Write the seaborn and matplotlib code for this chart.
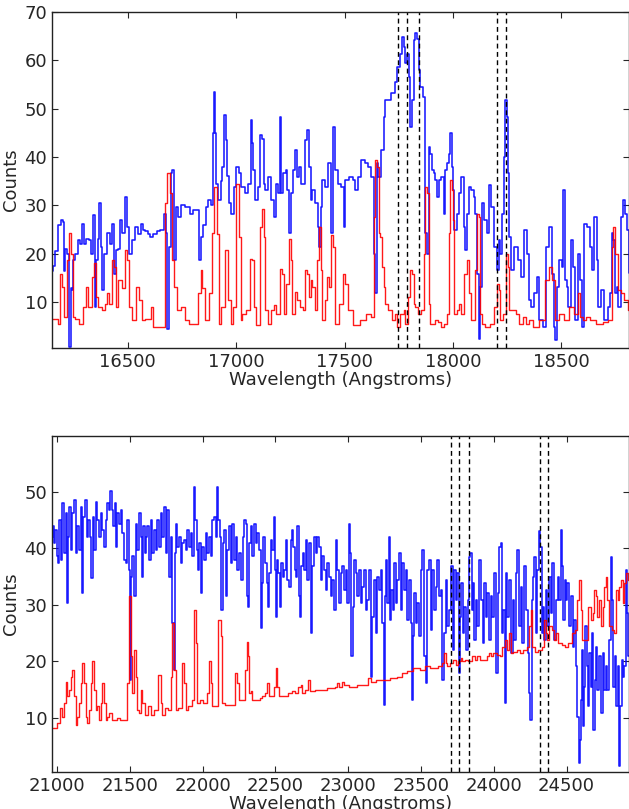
import numpy as np
import pandas as pd
import matplotlib
matplotlib.use("Agg")
import matplotlib.pyplot as plt
import seaborn as sns

# ---------------- data: top panel (H band) ----------------
top_blue_wl = [16150, 16160, 16170, 16184, 16195, 16202, 16206, 16215, 16226, 16233, 16238, 16245, 16252, 16264,
               16272, 16285, 16295, 16302, 16313, 16325, 16336, 16345, 16348, 16356, 16365, 16371, 16379, 16387,
               16394, 16410, 16425, 16433, 16441, 16448, 16460, 16471, 16479, 16491, 16502, 16510, 16525, 16540,
               16555, 16563, 16575, 16586, 16598, 16609, 16625, 16640, 16660, 16671, 16679, 16686, 16694, 16702,
               16709, 16717, 16725, 16740, 16755, 16775, 16794, 16810, 16824, 16832, 16840, 16855, 16863, 16878,
               16891, 16894, 16898, 16904, 16909, 16924, 16932, 16940, 16947, 16955, 16962, 16970, 16986, 16993,
               17009, 17016, 17032, 17047, 17063,
               17070, 17075, 17081, 17093, 17108, 17113, 17124, 17131, 17139, 17155, 17170, 17182, 17188, 17198,
               17205, 17211, 17224, 17231, 17239, 17247, 17254, 17270, 17277, 17285, 17293, 17308, 17323, 17331,
               17339, 17347, 17354, 17370, 17382, 17385, 17393, 17400, 17416, 17431, 17443, 17451, 17462, 17477,
               17492, 17500, 17508, 17531, 17546, 17554, 17569, 17585, 17600, 17615, 17631, 17638, 17646, 17651,
               17661, 17677, 17684, 17692, 17707, 17723, 17738, 17750, 17761, 17769, 17777, 17784, 17792, 17800,
               17807, 17815, 17823, 17830, 17838, 17846, 17853, 17869, 17876, 17884, 17892, 17899, 17907, 17915,
               17923, 17930,
               17938, 17953, 17961, 17969, 17976, 17984, 17992, 17996, 18002, 18012, 18022, 18030, 18045, 18053,
               18061, 18068, 18076, 18092, 18099, 18107, 18115, 18122, 18130, 18138, 18153, 18161, 18171, 18184,
               18199, 18207, 18214, 18222, 18230, 18237, 18245, 18250, 18256, 18264, 18276, 18291, 18307, 18322,
               18337, 18345, 18353, 18368, 18383, 18391, 18406, 18422, 18437, 18452, 18460, 18468, 18476, 18483,
               18499, 18506, 18514, 18522, 18529, 18537, 18552, 18560, 18568, 18583, 18591, 18598, 18614, 18626,
               18637, 18644, 18660, 18667, 18675, 18691, 18706, 18721, 18729, 18737, 18744, 18752, 18760, 18767,
               18783, 18790, 18798, 18806, 18815]
top_blue_counts = [16.5, 17.5, 20.5, 26.0, 27.0, 26.5, 16.5, 21.0, 20.0, 0.7, 13.0, 12.5, 18.6, 20.0,
                   22.8, 22.0, 26.2, 22.0, 23.0, 22.8, 20.0, 28.0, 9.0, 18.6, 23.0, 30.4, 21.4, 12.4,
                   20.0, 24.2, 22.0, 26.2, 15.9, 20.7, 21.0, 27.0, 24.2, 31.8, 25.6, 20.0, 22.8, 25.6,
                   24.0, 26.2, 25.0, 24.8, 24.0, 23.5, 24.0, 24.8, 25.0, 28.3, 24.2, 4.5, 21.4, 36.6,
                   37.3, 18.6, 29.7, 27.6, 30.0, 29.7, 28.3, 29.0, 29.0, 18.6, 23.5, 26.0, 29.7, 31.1,
                   30.0, 44.9, 53.5, 45.0, 34.5, 31.1, 35.0, 38.0, 48.7, 43.5, 36.0, 30.4, 28.3, 33.8,
                   38.0, 36.6, 33.8, 32.5, 34.5,
                   47.6, 42.8, 37.3, 31.1, 33.8, 44.5, 43.8, 34.5, 33.1, 35.9, 31.1, 27.6, 34.5, 32.5,
                   48.3, 32.5, 36.6, 37.3, 33.1, 24.2, 32.5, 37.3, 41.4, 35.9, 38.0, 34.5, 43.5, 45.6,
                   38.0, 31.1, 33.1, 30.4, 25.6, 21.4, 29.7, 35.2, 33.8, 38.7, 24.2, 46.2, 37.3, 34.5,
                   33.8, 25.6, 35.2, 35.9, 35.2, 33.1, 35.9, 39.3, 38.7, 38.0, 35.9, 20.0, 11.8, 38.7,
                   35.9, 41.4, 48.3, 51.8, 51.8, 53.2, 55.6, 58.7, 61.4, 64.9, 62.8, 59.4, 61.4, 56.6,
                   46.2, 51.8, 64.2, 65.6, 64.5, 58.0, 54.5, 52.5, 24.2, 20.0, 42.1, 40.7, 37.3, 36.6,
                   35.2, 31.8,
                   35.2, 35.9, 28.3, 37.3, 38.7, 40.7, 44.9, 38.0, 33.1, 24.9, 28.3, 32.5, 35.9, 25.5,
                   20.7, 28.3, 33.8, 33.1, 31.8, 28.3, 15.9, 2.4, 13.1, 30.4, 27.0, 24.2, 34.2, 29.7,
                   21.4, 16.6, 22.8, 20.0, 28.3, 40.1, 51.8, 48.3, 36.6, 23.5, 16.6, 21.4, 18.6, 15.2,
                   24.9, 20.0, 10.4, 9.0, 11.8, 15.2, 6.2, 4.8, 21.4, 25.5, 15.9, 4.8, 2.1, 13.1,
                   18.6, 17.3, 33.1, 14.5, 13.1, 9.0, 22.8, 17.3, 6.2, 20.0, 14.5, 4.8, 26.2, 25.5,
                   21.4, 16.6, 27.6, 18.6, 9.0, 12.4, 6.2, 9.0, 11.8, 24.2, 22.8, 11.8, 13.1, 9.0,
                   27.6, 31.1, 28.3, 24.9, 16.0]

top_red_wl = [16150, 16172, 16179, 16192, 16202, 16210, 16225, 16233, 16241, 16249, 16264, 16287, 16302, 16310,
              16325, 16341, 16348, 16356, 16371, 16387, 16402, 16410, 16417, 16433, 16441, 16448, 16464, 16479,
              16494, 16502, 16510, 16525, 16548, 16556, 16571, 16586, 16602, 16609, 16625, 16663, 16679, 16686,
              16702, 16709, 16717, 16732, 16755, 16771, 16794, 16817, 16832, 16840, 16848, 16863, 16886, 16894,
              16904, 16917, 16924, 16940, 16955, 16970, 16978, 16993, 17009, 17016, 17024,
              17032, 17055, 17070, 17078, 17085, 17101, 17116, 17124, 17131, 17139, 17155, 17170, 17178, 17193,
              17208, 17216, 17224, 17239, 17247, 17254, 17262, 17277, 17285, 17300, 17316, 17323, 17331, 17339,
              17347, 17354, 17370, 17377, 17385, 17393, 17400, 17416, 17423, 17431, 17443, 17451, 17462, 17485,
              17500, 17508, 17523, 17554, 17585, 17615, 17631, 17638, 17646, 17654, 17661, 17669, 17677, 17684,
              17692, 17707, 17731, 17738, 17746, 17769, 17777, 17784, 17800, 17807, 17815, 17823, 17830, 17846,
              17861, 17869, 17876, 17884, 17892, 17899,
              17907, 17923, 17938, 17953, 17969, 17976, 17984, 17992, 17996, 18002, 18012, 18022, 18030, 18045,
              18061, 18068, 18076, 18092, 18107, 18115, 18122, 18130, 18138, 18161, 18184, 18199, 18207, 18214,
              18222, 18237, 18248, 18256, 18264, 18284, 18299, 18314, 18330, 18345, 18360, 18383, 18414, 18437,
              18452, 18463, 18476, 18506, 18522, 18552, 18568, 18583, 18591, 18606, 18621, 18644, 18675, 18706,
              18729, 18737, 18744, 18752, 18767, 18783, 18798, 18813]
top_red_counts = [6.6, 6.6, 5.5, 15.9, 13.1, 6.9, 18.6, 24.3, 20.0, 6.9, 6.5, 5.5, 9.0, 13.1,
                  9.0, 15.2, 18.0, 11.1, 9.0, 8.3, 9.7, 11.8, 9.5, 18.6, 17.3, 9.0, 14.5, 13.0,
                  20.7, 18.6, 9.0, 6.2, 13.1, 10.4, 6.2, 6.5, 6.5, 9.0, 4.9, 4.9, 30.4, 36.6,
                  32.5, 18.6, 13.1, 8.3, 9.0, 6.2, 5.5, 5.5, 11.8, 16.6, 13.0, 6.2, 11.8, 24.2,
                  33.8, 24.0, 5.5, 9.0, 20.7, 10.4, 5.5, 9.0, 34.5, 23.5, 6.2,
                  7.6, 8.3, 19.0, 18.6, 9.0, 5.2, 25.5, 29.3, 23.5, 8.3, 5.5, 8.3, 9.3, 7.6,
                  16.9, 15.9, 7.6, 13.8, 23.1, 18.6, 7.6, 12.1, 10.4, 9.0, 8.3, 16.6, 15.9, 11.0,
                  14.5, 13.1, 8.3, 18.6, 25.5, 16.6, 6.2, 10.4, 15.2, 13.1, 23.8, 21.4, 5.5, 9.7,
                  15.9, 13.8, 8.3, 5.2, 6.2, 7.6, 6.9, 27.6, 39.3, 38.0, 24.2, 23.5, 17.3, 13.1,
                  9.7, 8.3, 6.2, 7.6, 4.8, 7.6, 8.3, 5.5, 11.0, 16.6, 15.9, 9.7, 9.0, 7.6,
                  8.3, 20.0, 33.8, 32.5, 9.7, 5.5,
                  5.5, 6.2, 5.9, 4.8, 5.5, 7.6, 24.2, 35.2, 33.1, 27.0, 7.6, 8.3, 9.7, 7.6,
                  15.9, 18.6, 11.8, 6.2, 16.6, 28.3, 27.6, 7.6, 5.5, 4.8, 5.5, 9.0, 13.8, 12.4,
                  6.2, 7.6, 20.0, 17.3, 8.3, 8.3, 7.6, 5.5, 6.9, 5.5, 6.2, 4.8, 6.2, 14.5,
                  17.3, 14.5, 6.2, 7.6, 6.2, 9.0, 7.6, 11.8, 7.0, 6.2, 6.9, 6.2, 5.5, 5.8,
                  6.2, 21.4, 25.5, 20.0, 12.4, 11.8, 10.4, 8.3]

top_lines = [17747, 17788, 17843, 18203, 18244]

# ---------------- data: bottom panel (K band) ----------------
bot_blue_wl = [20966, 20975, 20986, 20993, 21002, 21011, 21021, 21032, 21043, 21055, 21066, 21071, 21078, 21089,
               21101, 21112, 21124, 21135, 21146, 21158, 21169, 21176, 21185, 21199, 21208, 21222, 21231, 21240,
               21250, 21261, 21272, 21284, 21295, 21307, 21318, 21330, 21341, 21352, 21364, 21371, 21382, 21391,
               21401, 21410, 21421, 21433, 21444, 21455, 21467, 21478, 21490, 21497, 21501, 21506, 21513, 21524,
               21536, 21547, 21559, 21570, 21581, 21588, 21597, 21607, 21616, 21627, 21639, 21650, 21662, 21673,
               21684, 21696, 21707, 21719, 21730, 21742, 21753, 21765, 21776, 21787, 21799, 21806, 21815, 21822,
               21833, 21845, 21856, 21868, 21879, 21890, 21902, 21913, 21925, 21936, 21948, 21954, 21964, 21973,
               21982, 21993, 22005, 22016, 22028, 22039, 22051, 22062, 22074, 22085, 22096, 22103, 22112, 22124,
               22133, 22142, 22154, 22165, 22176, 22188, 22199, 22211, 22222, 22234, 22245,
               22257, 22275, 22284, 22291, 22303, 22307, 22314, 22325, 22337, 22348, 22360, 22371, 22383, 22394,
               22406, 22412, 22422, 22435, 22445, 22454, 22463, 22474, 22486, 22493, 22499, 22504, 22513, 22527,
               22536, 22545, 22554, 22566, 22577, 22589, 22600, 22612, 22618, 22628, 22637, 22646, 22657, 22664,
               22673, 22683, 22692, 22703, 22715, 22726, 22737, 22749, 22760, 22772, 22783, 22795, 22806, 22818,
               22829, 22840, 22852, 22863, 22875, 22886, 22898, 22909, 22921, 22932, 22944, 22955, 22966, 22978,
               22989, 23001, 23008, 23017, 23026, 23035, 23046, 23058, 23069, 23081, 23092, 23104, 23115, 23127,
               23138, 23149, 23161, 23172, 23184, 23195, 23207, 23218, 23230, 23241, 23248, 23255, 23264, 23275,
               23282, 23291, 23301, 23310, 23321, 23333, 23344, 23356, 23367, 23378, 23390, 23401, 23413, 23424,
               23436, 23440, 23447, 23458, 23470, 23481, 23493, 23504, 23516, 23527, 23539, 23550, 23562, 23573,
               23585, 23596, 23607, 23619, 23630,
               23642, 23653, 23665, 23676, 23688, 23699, 23711, 23722, 23734, 23745, 23756, 23763, 23772, 23782,
               23791, 23802, 23814, 23825, 23836, 23843, 23852, 23859, 23871, 23882, 23894, 23905, 23917, 23928,
               23939, 23951, 23962, 23974, 23985, 23997, 24008, 24020, 24031, 24043, 24049, 24059, 24070, 24079,
               24088, 24100, 24111, 24123, 24134, 24145, 24157, 24168, 24180, 24191, 24203, 24214, 24226, 24237,
               24249, 24255, 24265, 24271, 24283, 24294, 24306, 24317, 24324, 24333, 24340, 24351, 24363, 24374,
               24386, 24397, 24409, 24420, 24432, 24443, 24454, 24466, 24473, 24482, 24491, 24500, 24512, 24523,
               24535, 24546, 24557, 24569, 24580, 24587, 24592, 24599, 24606, 24615, 24626, 24633, 24642, 24651,
               24661, 24672, 24679, 24688, 24697, 24706, 24718, 24729, 24741, 24752, 24764, 24775, 24786, 24798,
               24809, 24816, 24825, 24834, 24844, 24855, 24867, 24873, 24883, 24890, 24901, 24908, 24917, 24928]
bot_blue_counts = [42.1, 43.9, 40.9, 43.3, 38.6, 37.4, 45.0, 38.0, 48.0, 39.1, 46.2, 30.3, 42.1, 47.4,
                   39.7, 46.2, 48.6, 39.1, 43.9, 39.7, 47.4, 32.1, 45.6, 48.6, 42.1, 45.0, 42.1, 34.7,
                   45.6, 39.7, 48.3, 45.0, 42.1, 46.2, 43.3, 40.3, 45.0, 48.0, 46.8, 50.1, 46.8, 43.9,
                   48.0, 40.3, 46.2, 44.4, 46.8, 42.7, 38.0, 37.4, 45.0, 36.2, 34.4, 16.7, 35.0, 38.6,
                   31.5, 44.4, 39.7, 46.2, 42.1, 35.0, 43.9, 39.1, 42.1, 43.9, 38.0, 45.0, 39.1, 43.3,
                   39.7, 45.0, 40.3, 46.2, 42.1, 47.4, 39.1, 46.8, 35.0, 42.1, 26.8, 18.5, 39.1, 44.4,
                   40.3, 42.1, 37.4, 40.9, 41.5, 39.7, 43.3, 40.3, 42.7, 38.6, 50.9, 45.0, 39.7, 36.2,
                   40.9, 32.1, 40.3, 38.0, 42.7, 39.1, 42.1, 38.6, 45.0, 45.6, 42.1, 50.9, 45.0, 42.1,
                   29.1, 40.9, 43.3, 31.5, 39.7, 43.9, 37.4, 44.4, 38.0, 42.1, 36.2,
                   39.1, 34.4, 42.1, 45.0, 44.4, 31.5, 29.7, 40.9, 43.9, 38.6, 44.4, 40.9, 42.7, 39.7,
                   25.9, 33.8, 42.1, 37.4, 33.8, 29.7, 35.6, 41.5, 39.7, 45.6, 36.2, 27.9, 38.0, 35.6,
                   29.7, 37.4, 35.0, 36.2, 41.5, 34.4, 33.2, 41.5, 43.3, 40.3, 36.2, 35.0, 43.9, 31.5,
                   27.9, 36.8, 39.1, 36.2, 41.5, 34.4, 40.9, 25.0, 36.8, 42.1, 39.1, 42.1, 40.3, 34.4,
                   38.6, 36.2, 32.6, 37.4, 35.0, 31.5, 34.4, 29.1, 41.5, 36.2, 30.3, 35.6, 36.8, 32.6,
                   36.2, 30.3, 44.4, 39.1, 20.9, 29.7, 38.0, 35.6, 31.5, 36.2, 30.3, 33.2, 36.2, 29.1,
                   30.9, 36.2, 17.3, 27.9, 34.4, 25.0, 35.0, 32.6, 36.2, 26.8, 12.3, 31.5, 38.0, 30.3,
                   42.1, 27.3, 32.6, 29.1, 37.4, 30.3, 34.4, 39.1, 29.1, 37.4, 32.6, 36.2, 27.3, 34.4,
                   26.8, 13.2, 24.4, 32.1, 26.8, 30.3, 24.4, 36.2, 39.7, 20.9, 16.1, 36.2, 38.0, 25.6,
                   36.2, 29.1, 33.2, 38.0, 31.5,
                   32.7, 16.7, 25.0, 34.4, 26.2, 29.1, 36.8, 22.0, 36.2, 30.9, 35.6, 17.9, 27.9, 33.8,
                   25.0, 29.7, 22.0, 30.9, 38.5, 39.1, 29.1, 33.8, 23.8, 30.9, 26.2, 38.0, 30.9, 23.2,
                   33.8, 27.9, 32.1, 23.8, 31.5, 27.9, 35.6, 17.9, 32.1, 40.3, 40.9, 25.0, 29.1, 12.6,
                   35.6, 27.9, 34.4, 21.4, 30.9, 23.8, 35.6, 39.7, 26.2, 33.2, 23.2, 36.8, 29.1, 21.4,
                   14.4, 9.6, 30.9, 35.0, 38.5, 25.0, 36.2, 43.0, 40.3, 25.0, 29.7, 23.8, 32.7, 26.2,
                   35.0, 28.5, 37.4, 23.8, 30.9, 35.0, 30.9, 43.3, 36.8, 27.3, 34.4, 30.9, 33.8, 26.2,
                   31.5, 22.6, 27.3, 19.1, 10.2, 2.0, 6.1, 13.2, 22.0, 8.5, 15.5, 26.2, 19.1, 12.0,
                   21.4, 15.5, 25.0, 7.9, 16.7, 22.6, 14.9, 20.9, 10.8, 21.4, 14.9, 19.1, 14.9, 23.8,
                   38.5, 30.9, 15.5, 20.9, 12.0, 19.1, 1.4, 12.0, 20.3, 17.3, 19.1, 36.2, 28.5, 20.9]

bot_red_wl = [20966, 20998, 21009, 21032, 21043, 21055, 21066, 21078, 21089, 21101, 21112, 21124, 21135, 21146,
              21158, 21169, 21181, 21192, 21204, 21215, 21227, 21238, 21250, 21261, 21272, 21284, 21295, 21307,
              21318, 21330, 21341, 21352, 21364, 21387, 21410, 21421, 21444, 21478, 21490, 21501, 21513, 21524,
              21536, 21547, 21559, 21570, 21581, 21593, 21616, 21639, 21650, 21684, 21707, 21719, 21730, 21753,
              21776, 21787, 21799, 21810, 21822, 21845, 21868, 21879, 21890, 21913, 21936, 21948, 21959, 21971,
              21993, 22016, 22039, 22051, 22062, 22074, 22096, 22119, 22131, 22142, 22165, 22211, 22234, 22245,
              22257,
              22291, 22298, 22307, 22316, 22325, 22337, 22348, 22383, 22406, 22417, 22440, 22451, 22463, 22486,
              22497, 22509, 22520, 22531, 22577, 22600, 22623, 22646, 22669, 22680, 22692, 22715, 22731, 22742,
              22806, 22898, 22921, 22932, 22944, 22966, 22978, 23035, 23081, 23127, 23149, 23161, 23218, 23264,
              23310, 23356, 23378, 23424, 23470, 23516, 23539, 23585,
              23608, 23630, 23653, 23665, 23676, 23688, 23711, 23734, 23745, 23768, 23779, 23791, 23814, 23836,
              23859, 23882, 23894, 23917, 23939, 23962, 23974, 23985, 24008, 24031, 24054, 24065, 24088, 24100,
              24111, 24123, 24145, 24168, 24191, 24214, 24237, 24249, 24260, 24271, 24294, 24317, 24340, 24351,
              24363, 24374, 24386, 24409, 24420, 24432, 24454, 24477, 24500, 24523, 24546, 24569, 24580, 24592,
              24603, 24615, 24638, 24661, 24672, 24684, 24695, 24706, 24718, 24729, 24741, 24752, 24764, 24775,
              24786, 24798, 24821, 24832, 24844, 24855, 24867, 24878, 24890, 24901, 24912, 24928]
bot_red_counts = [8.2, 8.2, 9.0, 11.7, 10.2, 12.6, 16.4, 13.8, 15.0, 17.3, 18.5, 13.8, 8.8, 10.2,
                  12.6, 16.1, 19.7, 16.1, 10.2, 9.0, 11.4, 16.1, 20.0, 15.0, 11.4, 12.0, 9.6, 12.6,
                  16.1, 12.6, 9.6, 10.2, 10.8, 9.6, 9.6, 9.9, 9.6, 9.6, 16.1, 31.5, 20.9, 14.4,
                  22.0, 17.3, 11.4, 10.8, 15.0, 12.6, 10.5, 12.0, 10.5, 11.4, 17.6, 12.6, 10.5, 11.7,
                  11.4, 17.3, 26.8, 18.5, 11.4, 11.7, 19.7, 16.1, 11.4, 12.0, 13.2, 29.1, 23.2, 12.6,
                  13.2, 12.6, 14.4, 20.0, 16.1, 12.0, 12.0, 27.4, 24.4, 12.6, 12.3, 12.3, 17.9, 16.1,
                  13.2,
                  13.2, 18.5, 23.5, 20.9, 14.4, 14.7, 13.2, 13.2, 13.5, 13.8, 14.4, 16.1, 13.8, 13.8,
                  15.5, 18.8, 15.5, 13.8, 13.8, 14.4, 14.7, 14.4, 15.5, 15.8, 14.4, 15.0, 16.7, 14.7,
                  15.0, 15.2, 15.5, 16.1, 15.5, 16.4, 15.8, 15.5, 15.8, 15.8, 17.0, 16.4, 16.7, 16.7,
                  17.0, 17.3, 17.9, 18.2, 18.8, 18.5, 19.1, 18.8,
                  18.8, 19.1, 19.7, 21.4, 19.7, 19.1, 19.7, 20.3, 19.4, 20.0, 20.6, 20.0, 20.3, 20.0,
                  20.9, 20.3, 20.9, 20.3, 20.3, 20.9, 21.4, 20.9, 21.4, 21.1, 20.9, 22.6, 23.8, 22.0,
                  25.0, 21.4, 21.7, 22.0, 21.4, 22.0, 22.6, 26.2, 29.1, 22.6, 21.7, 22.0, 22.6, 27.3,
                  25.0, 23.8, 26.2, 25.6, 23.8, 25.0, 23.2, 22.9, 22.6, 23.2, 25.0, 25.6, 30.9, 34.4,
                  29.1, 23.8, 23.8, 29.7, 27.3, 28.5, 32.7, 31.5, 27.9, 30.9, 26.2, 29.7, 33.2, 35.0,
                  30.9, 26.2, 25.6, 25.0, 32.7, 30.9, 33.2, 34.4, 30.3, 33.8, 35.6, 34.4]

bot_lines = [23705, 23760, 23829, 24315, 24370]

top_xticks = [16500, 17000, 17500, 18000, 18500]
top_yticks = [10, 20, 30, 40, 50, 60, 70]
bot_xticks = [21000, 21500, 22000, 22500, 23000, 23500, 24000, 24500]
bot_yticks = [10, 20, 30, 40, 50]

# ---------------- plotting ----------------
sns.set_style("ticks", {"xtick.direction": "in", "ytick.direction": "in",
                        "xtick.top": True, "ytick.right": True,
                        "axes.edgecolor": "#222222"})
plt.rcParams["font.family"] = ["DejaVu Sans"]
plt.rcParams["font.size"] = 13

fig = plt.figure(figsize=(6.29, 8.09), dpi=100)
ax1 = fig.add_axes([52 / 629, 1 - 348 / 809, 576.5 / 629, 336 / 809])
ax2 = fig.add_axes([52 / 629, 1 - 772 / 809, 576.5 / 629, 336 / 809])


def draw(ax, bwl, bval, rwl, rval, lines, xlim, ylim, xticks, yticks):
    dfb = pd.DataFrame({"wl": bwl, "counts": bval})
    dfr = pd.DataFrame({"wl": rwl, "counts": rval})
    sns.lineplot(data=dfb, x="wl", y="counts", ax=ax, color="#0000ff", linewidth=1.15,
                 estimator=None, sort=False, drawstyle="steps-mid", alpha=0.9)
    sns.lineplot(data=dfr, x="wl", y="counts", ax=ax, color="#ff0000", linewidth=1.0,
                 estimator=None, sort=False, drawstyle="steps-mid", alpha=0.9)
    for l in lines:
        ax.axvline(l, color="black", linestyle="--", linewidth=1.0, dashes=(3.5, 2.5))
    ax.set_xlim(*xlim)
    ax.set_ylim(*ylim)
    ax.set_xticks(xticks)
    ax.set_yticks(yticks)
    ax.set_xlabel("Wavelength (Angstroms)", fontsize=13, labelpad=0)
    ax.set_ylabel("Counts", fontsize=13, labelpad=3)
    ax.tick_params(axis="both", which="major", labelsize=13, length=4, width=0.8, pad=3.5)
    for s in ax.spines.values():
        s.set_linewidth(1.0)


draw(ax1, top_blue_wl, top_blue_counts, top_red_wl, top_red_counts, top_lines,
     (16150, 18810), (0.5, 70), top_xticks, top_yticks)
draw(ax2, bot_blue_wl, bot_blue_counts, bot_red_wl, bot_red_counts, bot_lines,
     (20966, 24925), (0.4, 59.9), bot_xticks, bot_yticks)

fig.savefig("out.png", dpi=100)
